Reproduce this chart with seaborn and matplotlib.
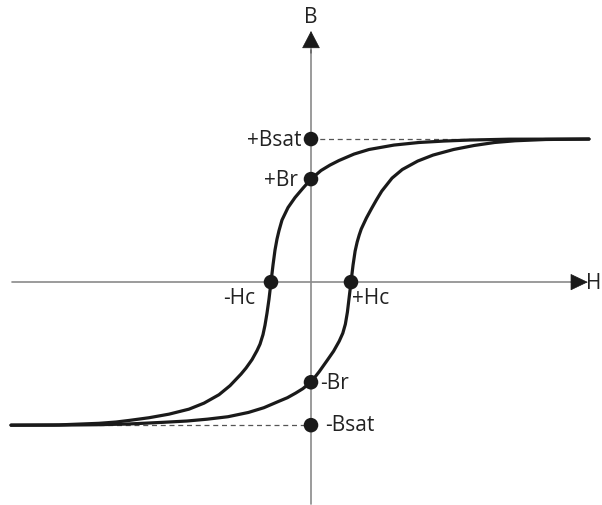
import numpy as np
import pandas as pd
import matplotlib
matplotlib.use("Agg")
import matplotlib.pyplot as plt
import seaborn as sns

# Hysteresis loop, H in units of Hc, B in units of Bsat
h_upper = [-7.5, -6.3, -5.3, -4.875, -4.55, -4.05, -3.55, -3.05, -2.675, -2.3, -2.025,
           -1.75, -1.625, -1.475, -1.35, -1.275, -1.2, -1.15, -1.1, -1.05, -1.0,
           -0.95, -0.9, -0.85, -0.8, -0.725, -0.575, -0.4, -0.2, 0.0, 0.25, 0.475,
           0.7, 1.075, 1.45, 2.075, 2.7, 3.325, 3.95, 4.95, 6.95]
b_upper = [-1.0, -0.998, -0.987, -0.978, -0.967, -0.948, -0.923, -0.888, -0.846, -0.787,
           -0.724, -0.643, -0.601, -0.542, -0.479, -0.434, -0.367, -0.301, -0.217,
           -0.119, 0.0, 0.119, 0.224, 0.301, 0.36, 0.434, 0.521, 0.591, 0.657, 0.72,
           0.78, 0.818, 0.85, 0.895, 0.927, 0.958, 0.976, 0.986, 0.993, 0.999, 1.0]

h_lower = [-7.5, -6.436, -5.359, -4.59, -3.692, -3.103, -2.59, -2.077, -1.564, -1.179,
           -0.795, -0.59, -0.385, -0.205, 0.0, 0.205, 0.41, 0.564, 0.705, 0.795, 0.859,
           0.91, 0.949, 1.0, 1.051, 1.103, 1.154, 1.205, 1.256, 1.385, 1.513, 1.641,
           1.769, 2.026, 2.282, 2.667, 3.051, 3.564, 4.077, 4.59, 5.103, 5.872, 6.95]
b_lower = [-1.0, -1.0, -0.997, -0.992, -0.98, -0.971, -0.958, -0.941, -0.911, -0.878,
           -0.832, -0.808, -0.776, -0.745, -0.699, -0.626, -0.545, -0.483, -0.413,
           -0.357, -0.294, -0.21, -0.119, 0.0, 0.119, 0.217, 0.28, 0.329, 0.371, 0.448,
           0.514, 0.577, 0.636, 0.727, 0.787, 0.846, 0.888, 0.927, 0.955, 0.976, 0.988,
           0.997, 1.0]

# key points
pt_labels = ["+Bsat", "+Br", "-Hc", "+Hc", "-Br", "-Bsat"]
pt_h = [0.0, 0.0, -1.0, 1.0, 0.0, 0.0]
pt_b = [1.0, 0.72, 0.0, 0.0, -0.70, -1.0]

upper = pd.DataFrame({"H": h_upper, "B": b_upper})
lower = pd.DataFrame({"H": h_lower, "B": b_lower})
points = pd.DataFrame({"H": pt_h, "B": pt_b, "label": pt_labels})

sns.set_style("white")
plt.rcParams["font.family"] = ["Open Sans", "DejaVu Sans"]

fig = plt.figure(figsize=(6.02, 5.06), dpi=100)
ax = fig.add_axes([0, 0, 1, 1])
ax.set_xlim(-7.775, 7.275)
ax.set_ylim(-1.558, 1.979)
ax.axis("off")

axis_col = "#8a8a8a"
# axes lines
ax.plot([-7.48, 6.6], [0, 0], color=axis_col, lw=1.2, zorder=1)
ax.plot([0, 0], [-1.55, 1.62], color=axis_col, lw=1.2, zorder=1)
ax.annotate("", xy=(6.92, 0), xytext=(6.5, 0),
            arrowprops=dict(arrowstyle="-|>,head_length=1.15,head_width=0.55",
                            mutation_scale=10, color="#1a1a1a", lw=0.5,
                            shrinkA=0, shrinkB=0), zorder=3)
ax.annotate("", xy=(0, 1.755), xytext=(0, 1.6),
            arrowprops=dict(arrowstyle="-|>,head_length=1.15,head_width=0.6",
                            mutation_scale=10, color="#1a1a1a", lw=0.5,
                            shrinkA=0, shrinkB=0), zorder=3)

# saturation guides
ax.plot([0, 5.2], [1, 1], color="#555555", lw=0.9, ls=(0, (4, 3)), zorder=1)
ax.plot([-5.3, 0], [-1, -1], color="#555555", lw=0.9, ls=(0, (4, 3)), zorder=1)

sns.lineplot(data=upper, x="H", y="B", sort=False, estimator=None,
             color="#1a1a1a", lw=2.3, ax=ax, zorder=2)
sns.lineplot(data=lower, x="H", y="B", sort=False, estimator=None,
             color="#1a1a1a", lw=2.3, ax=ax, zorder=2)
sns.scatterplot(data=points, x="H", y="B", color="#1a1a1a", s=110,
                edgecolor="none", ax=ax, zorder=4, legend=False)

fs = 15
txt = dict(fontsize=fs, color="#222222", va="center")
ax.text(-0.25, 1.0, "+Bsat", ha="right", **txt)
ax.text(-0.33, 0.72, "+Br", ha="right", **txt)
ax.text(-1.4, -0.105, "-Hc", ha="right", **txt)
ax.text(1.03, -0.105, "+Hc", ha="left", **txt)
ax.text(0.22, -0.70, "-Br", ha="left", **txt)
ax.text(0.35, -0.993, "-Bsat", ha="left", **txt)
ax.text(0.0, 1.86, "B", ha="center", **txt)
ax.text(6.87, 0.0, "H", ha="left", **txt)

ax.set_xlabel("")
ax.set_ylabel("")
fig.savefig("out.png", dpi=100)
